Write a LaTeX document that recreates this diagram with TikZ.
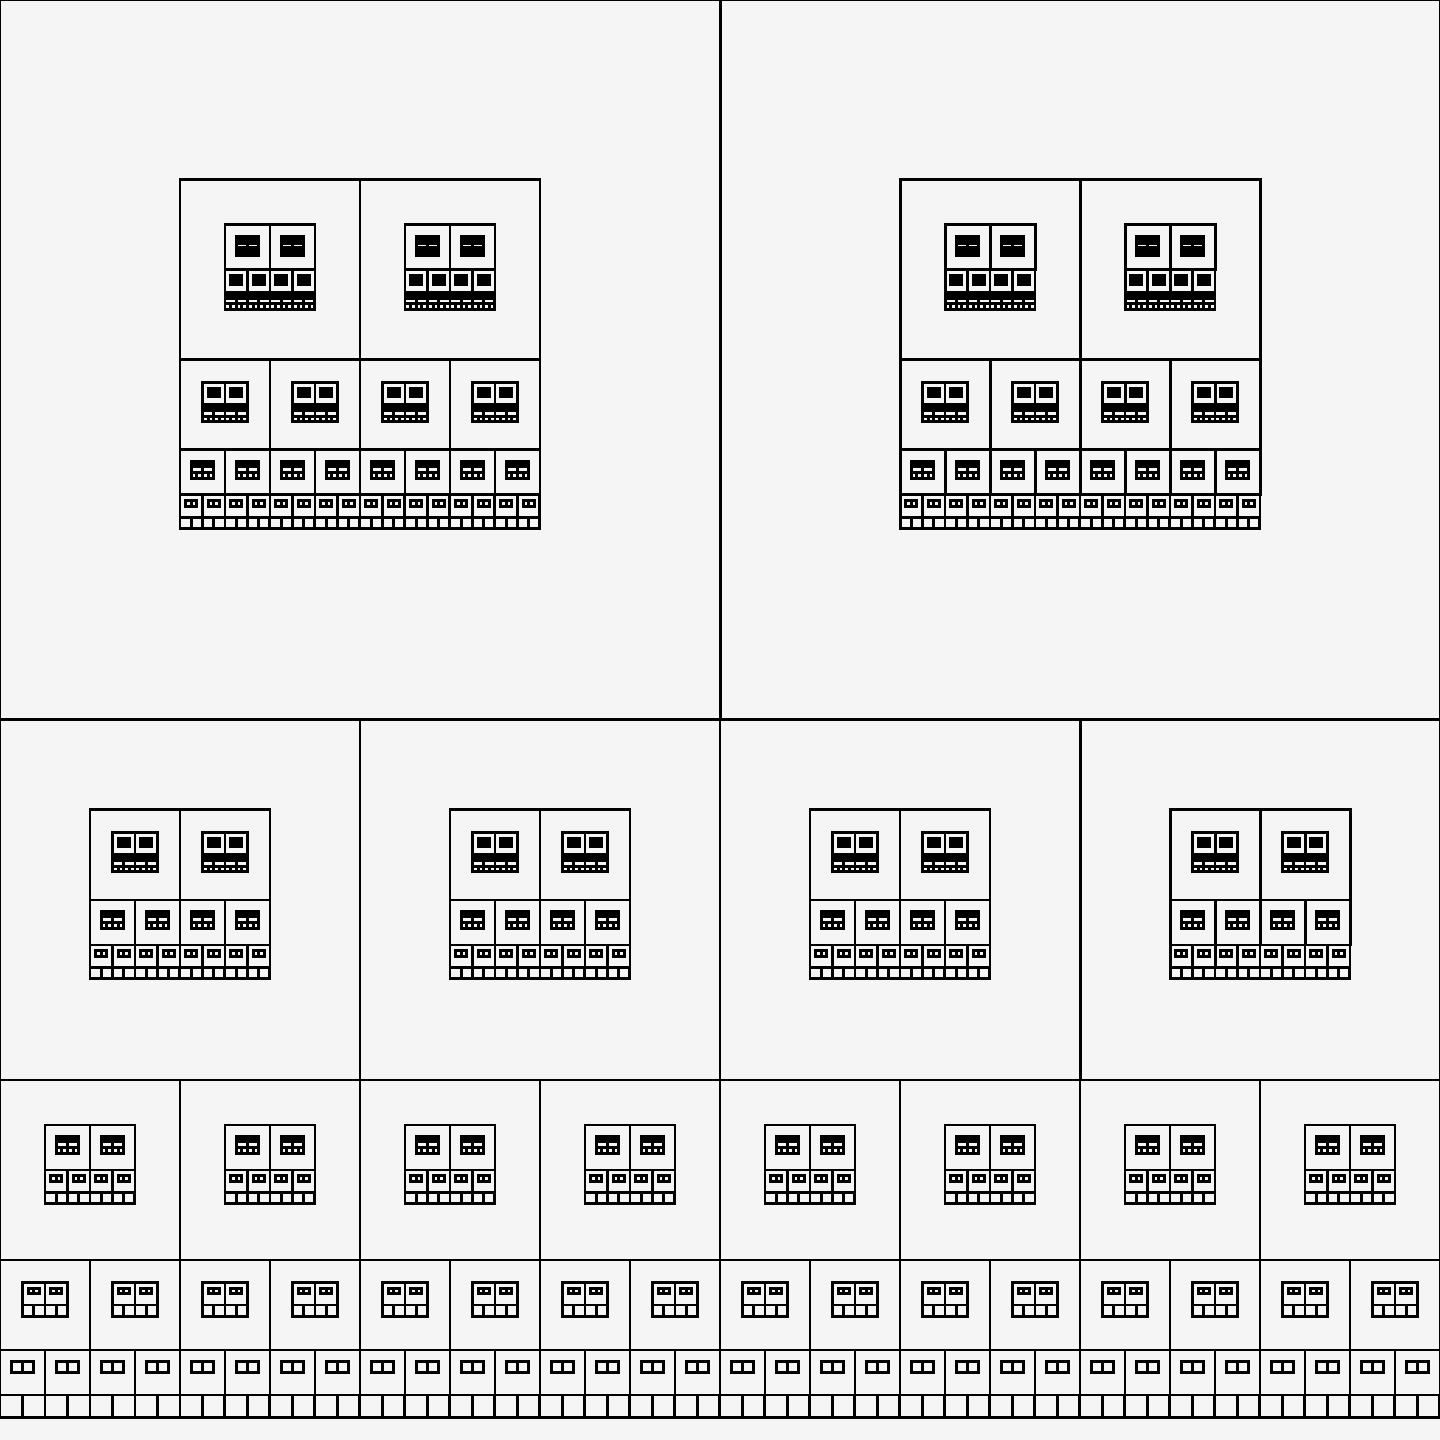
\documentclass[tikz,border=0pt]{standalone}
\usepackage{tikz}
\usepackage{xcolor}

\definecolor{paper}{RGB}{245,245,245}
\tikzset{cell/.style={draw=black, line width=0.85pt}}

% #1,#2 = top left corner, #3 = side, #4 = number of rows
\newcommand{\drawpattern}[4]{%
  \ifnum#4>0
  \foreach \k in {1,...,#4}{
    \pgfmathsetmacro\cs{#3/2^\k}
    \pgfmathsetmacro\rowtop{#2-#3*(1-2^(1-\k))}
    \pgfmathtruncatemacro\nmax{2^\k-1}
    \pgfmathtruncatemacro\dd{#4-\k}
    \foreach \i in {0,...,\nmax}{
      \pgfmathsetmacro\xa{#1+\i*\cs}
      \draw[cell] (\xa,\rowtop) rectangle ++(\cs,-\cs);
      % half-size copy in the middle of the cell
      \pgfmathsetmacro\xb{\xa+\cs/4}
      \pgfmathsetmacro\yb{\rowtop-\cs/4}
      \pgfmathsetmacro\sb{\cs/2}
      \edef\recurse{\noexpand\drawpattern{\xb}{\yb}{\sb}{\dd}}\recurse
    }
  }
  \fi}

\begin{document}
\begin{tikzpicture}
  \def\side{14.4}
  \fill[paper] (0,0) rectangle (\side,\side);
  \useasboundingbox (0,0) rectangle (\side,\side);

  \drawpattern{0}{\side}{\side}{6}
\end{tikzpicture}
\end{document}
